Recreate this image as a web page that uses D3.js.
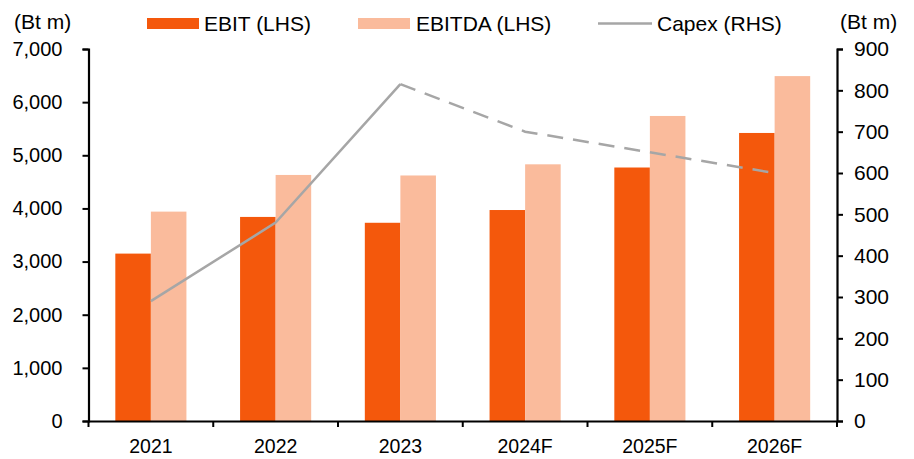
<!DOCTYPE html>
<html>
<head>
<meta charset="utf-8">
<script src="https://cdn.jsdelivr.net/npm/d3@7"></script>
<style>
  body { margin: 0; background: #fff; }
  text { font-family: "Liberation Sans", Arial, sans-serif; fill: #000; }
</style>
</head>
<body>
<div id="chart"></div>
<script>
// chart data
const years = ["2021", "2022", "2023", "2024F", "2025F", "2026F"];
const ebit = [3150, 3840, 3730, 3970, 4770, 5420];
const ebitda = [3940, 4630, 4620, 4830, 5740, 6490];
const capex = [290, 480, 815, 700, 650, 600];
const leftTicks = [0, 1000, 2000, 3000, 4000, 5000, 6000, 7000];
const rightTicks = [0, 100, 200, 300, 400, 500, 600, 700, 800, 900];
const lastActual = 2; // index of 2023, line is dashed after it

const width = 914, height = 459;
let margin = { top: 49, right: 77, bottom: 38, left: 88.5 };
let innerW = width - margin.left - margin.right,
  innerH = height - margin.top - margin.bottom;

let svg = d3.select("#chart").append("svg")
  .attr("width", width)
  .attr("height", height);

let chart = svg.append("g")
  .attr("transform", "translate(" + margin.left + "," + margin.top + ")");

let x = d3.scaleBand().domain(years).range([0, innerW]);
let inner = d3.scaleBand().domain(["ebit", "ebitda"])
  .range([x.bandwidth() * 0.215, x.bandwidth() * 0.785]);
let yL = d3.scaleLinear().domain([0, 7000]).range([innerH, 0]);
let yR = d3.scaleLinear().domain([0, 900]).range([innerH, 0]);

const fmt = d3.format(",");

// bars
const seriesList = [
  { key: "ebit", values: ebit, color: "#F4580C" },
  { key: "ebitda", values: ebitda, color: "#FABB9C" }
];
seriesList.forEach(function (s) {
  chart.selectAll(".bar-" + s.key)
    .data(s.values)
    .enter().append("rect")
    .attr("class", "bar-" + s.key)
    .attr("x", function (d, i) { return x(years[i]) + inner(s.key); })
    .attr("width", inner.bandwidth())
    .attr("y", function (d) { return yL(d); })
    .attr("height", function (d) { return innerH - yL(d); })
    .attr("fill", s.color);
});

// capex line: solid for actuals, dashed for forecasts
let line = d3.line()
  .x(function (d) { return x(d.year) + x.bandwidth() / 2; })
  .y(function (d) { return yR(d.v); });
let pts = years.map(function (yr, i) { return { year: yr, v: capex[i] }; });

chart.append("path")
  .datum(pts.slice(0, lastActual + 1))
  .attr("d", line)
  .attr("fill", "none")
  .attr("stroke", "#A6A6A6")
  .attr("stroke-width", 2.5);

chart.append("path")
  .datum(pts.slice(lastActual))
  .attr("d", line)
  .attr("fill", "none")
  .attr("stroke", "#A6A6A6")
  .attr("stroke-width", 2.5)
  .attr("stroke-dasharray", "16,10");

// axes
let xAxis = chart.append("g")
  .attr("transform", "translate(0," + innerH + ")")
  .call(d3.axisBottom(x).tickSize(0).tickPadding(18));
xAxis.select(".domain").attr("stroke-width", 2.2);
xAxis.selectAll(".tick text").attr("font-size", 19.5);
// category boundary ticks
xAxis.selectAll(".bound")
  .data(d3.range(years.length + 1))
  .enter().append("line")
  .attr("x1", function (i) { return i * x.step(); })
  .attr("x2", function (i) { return i * x.step(); })
  .attr("y1", 0).attr("y2", 6)
  .attr("stroke", "#000").attr("stroke-width", 2);

let left = chart.append("g")
  .call(d3.axisLeft(yL).tickValues(leftTicks).tickFormat(fmt)
    .tickSizeOuter(0).tickSize(6).tickPadding(20));
left.select(".domain").attr("stroke-width", 2.2);
left.selectAll(".tick line").attr("stroke-width", 2);
left.selectAll(".tick text").attr("font-size", 20);

let right = chart.append("g")
  .attr("transform", "translate(" + innerW + ",0)")
  .call(d3.axisRight(yR).tickValues(rightTicks)
    .tickSizeOuter(0).tickSize(6).tickPadding(11));
right.select(".domain").attr("stroke-width", 2.2);
right.selectAll(".tick line").attr("stroke-width", 2);
right.selectAll(".tick text").attr("font-size", 21);

// axis unit labels
svg.append("text").attr("x", 14).attr("y", 29)
  .attr("font-size", 21).text("(Bt m)");
svg.append("text").attr("x", 840).attr("y", 29)
  .attr("font-size", 21).text("(Bt m)");

// legend
let legend = svg.append("g");
legend.append("rect").attr("x", 147).attr("y", 18)
  .attr("width", 52).attr("height", 11).attr("fill", "#F4580C");
legend.append("text").attr("x", 204).attr("y", 30.5)
  .attr("font-size", 21).text("EBIT (LHS)");
legend.append("rect").attr("x", 358).attr("y", 18)
  .attr("width", 52).attr("height", 11).attr("fill", "#FABB9C");
legend.append("text").attr("x", 416).attr("y", 30.5)
  .attr("font-size", 21).text("EBITDA (LHS)");
legend.append("line").attr("x1", 598).attr("x2", 652)
  .attr("y1", 23.5).attr("y2", 23.5)
  .attr("stroke", "#A6A6A6").attr("stroke-width", 2.5);
legend.append("text").attr("x", 657).attr("y", 30.5)
  .attr("font-size", 21).text("Capex (RHS)");
</script>
</body>
</html>
